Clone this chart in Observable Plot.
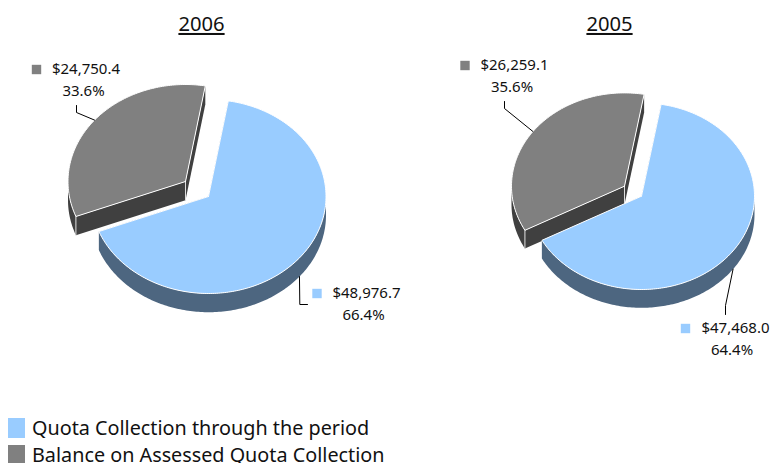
<!DOCTYPE html>
<html>
<head>
<meta charset="utf-8">
<script src="https://cdn.jsdelivr.net/npm/d3@7"></script>
<script src="https://cdn.jsdelivr.net/npm/@observablehq/plot@0.6"></script>
<style>
html,body{margin:0;padding:0;background:#fff;width:771px;height:463px;overflow:hidden;font-family:"Noto Sans",sans-serif;color:#111}
svg{display:block}
#legend{height:63px;position:relative}
#legend div{position:absolute;left:32px;font-size:19.8px;line-height:22px;white-space:nowrap}
#legend i{position:absolute;left:8px;width:17px;height:20px}
</style>
</head>
<body>
<div id="chart"></div>
<div id="legend"></div>
<script>
const years = ["2006", "2005"];
const categories = ["Quota Collection through the period", "Balance on Assessed Quota Collection"];
const collection = [48976.7, 47468.0];
const balance = [24750.4, 26259.1];
const topColors = ["#99CCFF", "#808080"];
const sideColors = ["#4D6680", "#404040"];

// Layout of the two pies: apex of each slice, ellipse radii, tilt depth
const layout = [
  {cx:208, cy:196, rx:117.5, ry:97, depth:18.7, start:9.7, dx:-23, dy:-15, titleX:201,
   leaderGray:[[76,112],[76,105]], leaderBlue:[[299.3,304],[307,304]],
   labelGray:{sq:36, vx:85.5, px:83, vy:69, py:91}, labelBlue:{sq:316.5, vx:366, px:363, vy:293, py:315}},
  {cx:641, cy:195.7, rx:113, ry:93.3, depth:18.3, start:10, dx:-17, dy:-10, titleX:609,
   leaderGray:[[504,108],[504,101]], leaderBlue:[[725,305],[725,314]],
   labelGray:{sq:464.5, vx:514, px:511.5, vy:65, py:87}, labelBlue:{sq:685, vx:735, px:731.5, vy:328, py:350}}
];
const W = 771, H = 400;
const fmtVal = d3.format("$,.1f"), fmtPct = d3.format(".1%");
const rad = d => d * Math.PI / 180;

function arcPts(cx, cy, rx, ry, a0, a1) {
  const pts = [];
  const n = Math.max(2, Math.ceil(Math.abs(a1 - a0)));
  for (let i = 0; i <= n; i++) {
    const t = rad(a0 + (a1 - a0) * i / n);
    pts.push({x: cx + rx * Math.sin(t), y: cy - ry * Math.cos(t)});
  }
  return pts;
}
const down = (pts, d) => pts.map(p => ({x: p.x, y: p.y + d}));
const closed = pts => [...pts, pts[0]];
const poly = (pts, opts) => Plot.line(closed(pts), {x:"x", y:"y", curve:"linear", ...opts});
const path = (pts, opts) => Plot.line(pts, {x:"x", y:"y", curve:"linear", fill:"none", ...opts});

function slice(g, a0, a1, cat) {
  const marks = [];
  const cx = g.cx + (cat ? g.dx : 0), cy = g.cy + (cat ? g.dy : 0);
  const apex = {x:cx, y:cy};
  const rim = arcPts(cx, cy, g.rx, g.ry, a0, a1);
  const side = sideColors[cat], top = topColors[cat];
  const first = rim[0], last = rim[rim.length - 1];
  // cut faces
  for (const e of [first, last]) {
    marks.push(poly([apex, e, {x:e.x, y:e.y + g.depth}, {x:apex.x, y:apex.y + g.depth}], {fill:side}));
  }
  // outer wall (only the part facing the viewer)
  const v0 = Math.max(a0, 90), v1 = Math.min(a1, 270);
  if (v1 > v0) {
    const wall = arcPts(cx, cy, g.rx, g.ry, v0, v1);
    marks.push(poly([...wall, ...down(wall, g.depth).reverse()], {fill:side}));
  }
  if (cat === 1) {
    for (const e of [apex, first]) {
      marks.push(path([e, {x:e.x, y:e.y + g.depth}], {stroke:"#ddd", strokeWidth:1}));
    }
  }
  marks.push(poly([apex, ...rim], {fill:top, stroke:"#fff", strokeWidth:1}));
  return marks;
}

const marks = [];
const texts = [];
const squares = [];
years.forEach((year, i) => {
  const g = layout[i];
  const total = collection[i] + balance[i];
  const blueEnd = g.start + 360 * collection[i] / total;
  const grayEnd = g.start + 360;
  marks.push(...slice(g, blueEnd, grayEnd, 1));
  marks.push(...slice(g, g.start, blueEnd, 0));

  // Leaders start on the middle of each slice's rim
  const midG = rad((blueEnd + grayEnd) / 2), midB = rad((g.start + blueEnd) / 2);
  const sG = {x:g.cx + g.dx + g.rx * Math.sin(midG), y:g.cy + g.dy - g.ry * Math.cos(midG)};
  const sB = {x:g.cx + g.rx * Math.sin(midB), y:g.cy - g.ry * Math.cos(midB) + g.depth};
  const toPts = a => a.map(([x, y]) => ({x, y}));
  marks.push(path([sG, ...toPts(g.leaderGray)], {stroke:"#000", strokeWidth:1}));
  marks.push(path([sB, ...toPts(g.leaderBlue)], {stroke:"#000", strokeWidth:1}));

  texts.push({x:g.titleX, y:24, text:year, size:20.2});
  [[g.labelGray, balance[i], 1], [g.labelBlue, collection[i], 0]].forEach(([l, v, c]) => {
    texts.push({x:l.vx, y:l.vy, text:fmtVal(v), size:15});
    texts.push({x:l.px, y:l.py, text:fmtPct(v / total), size:15});
    squares.push({x:l.sq, y:l.vy, c});
  });
});

const chart = Plot.plot({
  width: W, height: H,
  margin: 0,
  x: {domain:[0, W], range:[0, W], axis:null},
  y: {domain:[0, H], range:[0, H], axis:null},
  marks: [
    ...marks,
    Plot.dot(squares, {x:"x", y:"y", symbol:"square", r:5.3, fill:d => topColors[d.c], stroke:"none"}),
    ...[20.2, 15].map(s => Plot.text(texts.filter(d => d.size === s), {
      x:"x", y:"y", text:"text", fontSize:s, fill:"#111", textAnchor:"middle",
      fontFamily:'"Noto Sans"'
    }))
  ]
});
d3.select(chart).selectAll("text").filter(function(){ return years.includes(this.textContent); })
  .style("text-decoration", "underline");
document.getElementById("chart").append(chart);

const leg = document.getElementById("legend");
categories.forEach((c, i) => {
  const top = 18 + 27 * i;
  leg.insertAdjacentHTML("beforeend",
    `<i style="top:${top}px;background:${topColors[i]}"></i><div style="top:${top - 1}px">${c}</div>`);
});
</script>
</body>
</html>
